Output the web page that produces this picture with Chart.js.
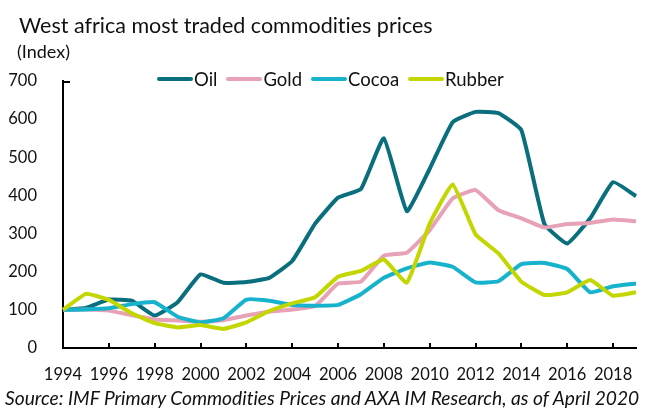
<!DOCTYPE html>
<html>
<head>
<meta charset="utf-8">
<script src="https://cdn.jsdelivr.net/npm/chart.js@4.4.1/dist/chart.umd.min.js"></script>
<style>
  body { margin: 0; background: #fff; }
  #wrap { position: relative; width: 648px; height: 410px; font-family: Lato, sans-serif; color: #111;
          font-variant-ligatures: none; }
  #chart { position: absolute; left: 0; top: 0; }
  .txt { position: absolute; white-space: nowrap; line-height: 1; }
  #title { left: 19px; top: 15px; font-size: 21.5px; }
  #unit { left: 17px; top: 42px; font-size: 18px; }
  #source { left: 5px; top: 388px; font-size: 19.2px; font-style: italic; }
  #legend { position: absolute; left: 157px; top: 70px; display: flex; gap: 9px; font-size: 18.5px; line-height: 18px; }
  #legend .item { display: flex; align-items: center; }
  #legend .swatch { width: 36px; height: 4px; border-radius: 2px; margin-right: 1px; }
</style>
</head>
<body>
<div id="wrap">
  <canvas id="chart" width="648" height="410"></canvas>
  <div class="txt" id="title">West africa most traded commodities prices</div>
  <div class="txt" id="unit">(Index)</div>
  <div id="legend"></div>
  <div class="txt" id="source">Source: IMF Primary Commodities Prices and AXA IM Research, as of April 2020</div>
</div>
<script>
const years = [];
for (let y = 1994; y <= 2019; y++) years.push(String(y));

const seriesNames = ['Oil', 'Gold', 'Cocoa', 'Rubber'];

const oil = [100, 105, 127, 124, 85, 120, 193, 171, 173, 184, 228, 326, 394, 417, 550, 359,
             470, 592, 619, 616, 571, 326, 274, 340, 435, 398];
const gold = [100, 101, 98, 86, 75, 72, 69, 73, 85, 95, 101, 110, 169, 174, 242, 250,
              309, 392, 414, 361, 340, 316, 325, 328, 337, 332];
const cocoa = [100, 101, 104, 115, 120, 82, 67, 78, 127, 124, 113, 111, 113, 141, 184, 209,
               224, 213, 172, 175, 220, 223, 207, 146, 162, 169];
const rubber = [100, 142, 126, 91, 65, 54, 60, 50, 67, 97, 117, 133, 187, 202, 232, 171,
                326, 429, 298, 248, 174, 139, 146, 178, 137, 146];

const colors = ['#0a6f7c', '#e8a2b8', '#17b3cd', '#c4d600'];
const values = [oil, gold, cocoa, rubber];

// legend as html
const legend = document.getElementById('legend');
seriesNames.forEach((name, i) => {
  const item = document.createElement('div');
  item.className = 'item';
  item.innerHTML = '<span class="swatch" style="background:' + colors[i] + '"></span><span>' + name + '</span>';
  legend.appendChild(item);
});

// small inward tick marks: x axis every second year, y axis at the top
const innerTicks = {
  id: 'innerTicks',
  afterDraw(chart) {
    const { ctx, scales: { x, y }, chartArea } = chart;
    ctx.save();
    ctx.strokeStyle = '#000';
    ctx.lineWidth = 2;
    ctx.beginPath();
    years.forEach((yr, i) => {
      if (i % 2 === 0 && i > 0) {
        const px = Math.round(x.getPixelForValue(i));
        ctx.moveTo(px, chartArea.bottom);
        ctx.lineTo(px, chartArea.bottom - 5);
      }
    });
    const top = Math.round(y.getPixelForValue(700)) + 1;
    ctx.moveTo(chartArea.left, top);
    ctx.lineTo(chartArea.left + 7, top);
    ctx.stroke();
    ctx.restore();
  }
};

new Chart(document.getElementById('chart').getContext('2d'), {
  type: 'line',
  data: {
    labels: years,
    datasets: seriesNames.map((name, i) => ({
      label: name,
      data: values[i],
      borderColor: colors[i],
      backgroundColor: colors[i],
      borderWidth: 4,
      pointRadius: 0,
      tension: 0.12,
      order: 3 - i
    }))
  },
  options: {
    responsive: false,
    animation: false,
    layout: { padding: { left: 0, top: 81, right: 12, bottom: 0 } },
    plugins: {
      legend: { display: false },
      tooltip: { enabled: false }
    },
    scales: {
      x: {
        offset: false,
        grid: { display: false },
        border: { display: true, color: '#000', width: 2 },
        ticks: {
          autoSkip: false,
          maxRotation: 0,
          padding: 9,
          color: '#111',
          font: { family: 'Lato', size: 16.5 },
          callback: (v, i) => (i % 2 === 0 ? years[i] : '')
        },
        afterFit: s => { s.height = 62; }
      },
      y: {
        min: 0,
        max: 700,
        grid: { display: false },
        border: { display: true, color: '#000', width: 2 },
        ticks: {
          stepSize: 100,
          padding: 18,
          color: '#111',
          font: { family: 'Lato', size: 16.5 }
        },
        afterFit: s => { s.width = 63; }
      }
    }
  },
  plugins: [innerTicks]
});
</script>
</body>
</html>
